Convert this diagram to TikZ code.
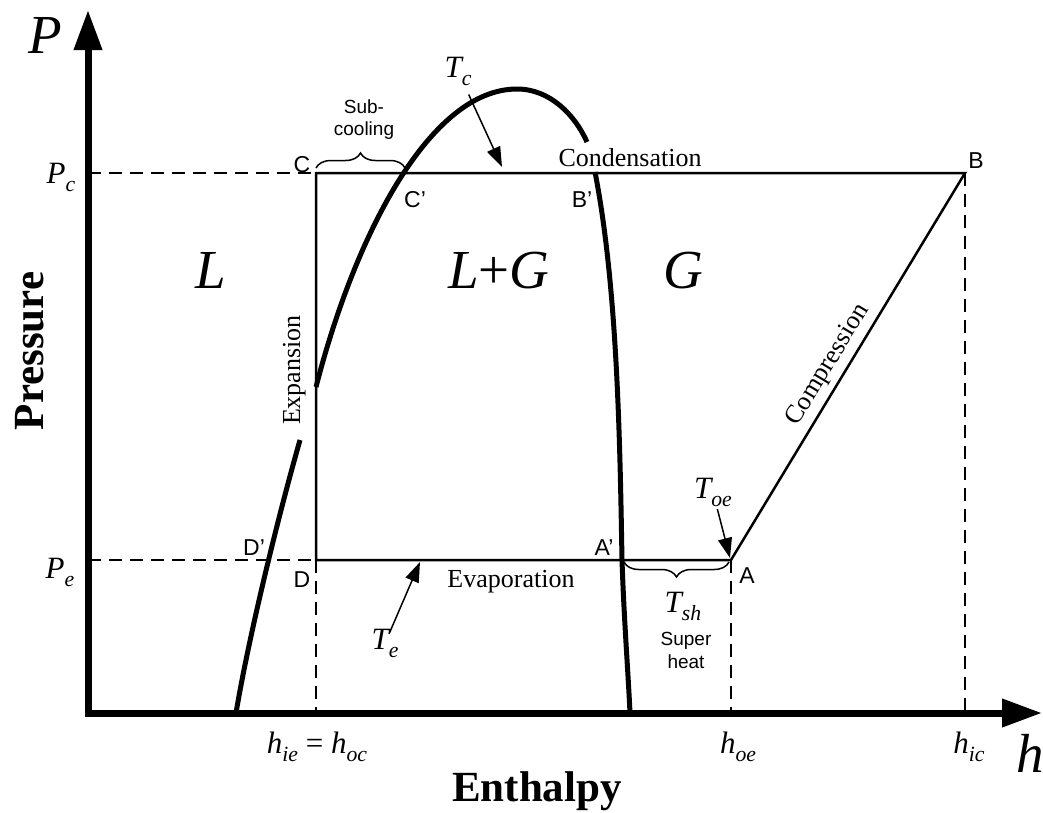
\documentclass[tikz,border=0pt]{standalone}
\usepackage{fontspec}
\setmainfont{Liberation Serif}
\setsansfont{Liberation Sans}
\usepackage{graphicx}
\usetikzlibrary{arrows.meta,decorations.pathreplacing}
\newcommand\sbs[1]{\raisebox{-0.28em}{\scalebox{0.7}{\itshape #1}}}
\tikzset{axtip/.tip={Triangle[length=40pt,width=27pt]}}
\begin{document}
\begin{tikzpicture}[x=1pt,y=-1pt,
  axis/.style={line width=7pt,line join=miter},
  dome/.style={line width=5pt,line cap=butt},
  cyc/.style={line width=2.5pt,line join=miter},
  guide/.style={line width=2.5pt,dash pattern=on 13pt off 8pt},
  pointer/.style={line width=1.5pt,-{Triangle[length=20pt,width=14pt]}},
  brc/.style={line width=1.5pt,decorate,decoration={brace,amplitude=15pt}},
  proc/.style={font=\fontsize{26}{30}\selectfont,inner sep=0pt,anchor=base},
  ptlab/.style={font=\sffamily\fontsize{23}{27}\selectfont,inner sep=0pt,anchor=base},
  small/.style={font=\sffamily\fontsize{19}{22}\selectfont,inner sep=0pt,anchor=base},
  mth/.style={font=\fontsize{31}{36}\selectfont\itshape,inner sep=0pt,anchor=base},
  region/.style={font=\fontsize{55}{62}\selectfont,inner sep=0pt,anchor=base},
  axlab/.style={font=\fontsize{43}{50}\selectfont\bfseries,inner sep=0pt,anchor=base}]
\useasboundingbox (0,0) rectangle (1043,812);
% coordinates
\coordinate (O) at (88,713);
\coordinate (ytip) at (88,10);
\coordinate (xtip) at (1042,713);
\coordinate (C) at (316,173);
\coordinate (B) at (965,173);
\coordinate (A) at (731,560);
\coordinate (D) at (316,560);
\coordinate (PcAx) at (88,173);
\coordinate (PeAx) at (88,560);
\coordinate (DAx) at (316,713);
\coordinate (AAx) at (731,713);
\coordinate (BAx) at (965,713);
% saturation dome
\draw[dome] (236,713) .. controls (250,630) and (280,510) .. (300,440);
\draw[dome] (316,387) .. controls (355,235) and (430,89) .. (517,89)
            .. controls (550,89) and (575,115) .. (587,142);
\draw[dome] (595,172) .. controls (618,290) and (620,450) .. (622,560)
            .. controls (624,620) and (628,670) .. (630,713);
% guide lines
\draw[guide] (PcAx) -- (C);
\draw[guide] (PeAx) -- (D);
\draw[guide] (D) -- (DAx);
\draw[guide] (A) -- (AAx);
\draw[guide] (B) -- (BAx);
% cycle
\draw[cyc] (C) -- (B) -- (A) -- (D) -- cycle;
% axes
\draw[axis,axtip-axtip] (ytip) -- (O) -- (xtip);
% axis labels
\node[region,font=\fontsize{55}{62}\selectfont\itshape] (Plab) at (45,53) {P};
\node[region,font=\fontsize{55}{62}\selectfont\itshape] (hlab) at (1030,772) {h};
\node[mth] (Pclab) at (61,183) {P\sbs{c}};
\node[mth] (Pelab) at (60,578) {P\sbs{e}};
\node[mth] (hielab) at (317,753) {h\sbs{ie} {\upshape=} h\sbs{oc}};
\node[mth] (hoelab) at (738,753) {h\sbs{oe}};
\node[mth] (hiclab) at (969,753) {h\sbs{ic}};
\node[axlab,rotate=90] (pres) at (43,351) {Pressure};
\node[axlab] (enth) at (537,801) {Enthalpy};
% regions
\node[region] (Lreg) at (211,288) {\textit{L}};
\node[region] (LGreg) at (499,288) {\textit{L}+\textit{G}};
\node[region] (Greg) at (683,288) {\textit{G}};
% process labels
\node[proc] (cond) at (630,166) {Condensation};
\node[proc] (evap) at (511,587) {Evaporation};
\node[proc,rotate=90] (expa) at (300,370) {Expansion};
\path (A) -- (B) node[pos=0.48,sloped,above,font=\fontsize{26}{30}\selectfont,inner sep=6pt] (comp) {Compression};
% point labels
\node[ptlab] (Clab) at (302,172) {C};
\node[ptlab] (Blab) at (976,168) {B};
\node[ptlab] (Cplab) at (415,207) {C’};
\node[ptlab] (Bplab) at (582,207) {B’};
\node[ptlab] (Dplab) at (254,555) {D’};
\node[ptlab] (Dlab) at (302,587) {D};
\node[ptlab] (Aplab) at (604,555) {A’};
\node[ptlab] (Alab) at (747,583) {A};
% temperature labels and pointers
\node[mth,inner sep=2pt] (Tc) at (458,77) {T\sbs{c}};
\node[mth,inner sep=2pt] (Te) at (385,649) {T\sbs{e}};
\node[mth,inner sep=2pt] (Toe) at (713,498) {T\sbs{oe}};
\node[mth] (Tsh) at (683,612) {T\sbs{sh}};
\coordinate (tcend) at (502,167);
\coordinate (teend) at (420,562);
\coordinate (toeend) at (730,558);
\draw[pointer,shorten <=7pt] (Tc) -- (tcend);
\draw[pointer,shorten <=-8pt] (Te) -- (teend);
\draw[pointer] (Toe) -- (toeend);
% braces
\coordinate (sc1) at (316,168);
\coordinate (sc2) at (405,168);
\coordinate (sh1) at (624,562);
\coordinate (sh2) at (729,562);
\draw[brc] (sc1) -- (sc2);
\draw[brc] (sh2) -- (sh1);
\node[small] (sub1) at (364,113) {Sub-};
\node[small] (sub2) at (364,135) {cooling};
\node[small] (sup1) at (686,645) {Super};
\node[small] (sup2) at (686,668) {heat};
\end{tikzpicture}
\end{document}
